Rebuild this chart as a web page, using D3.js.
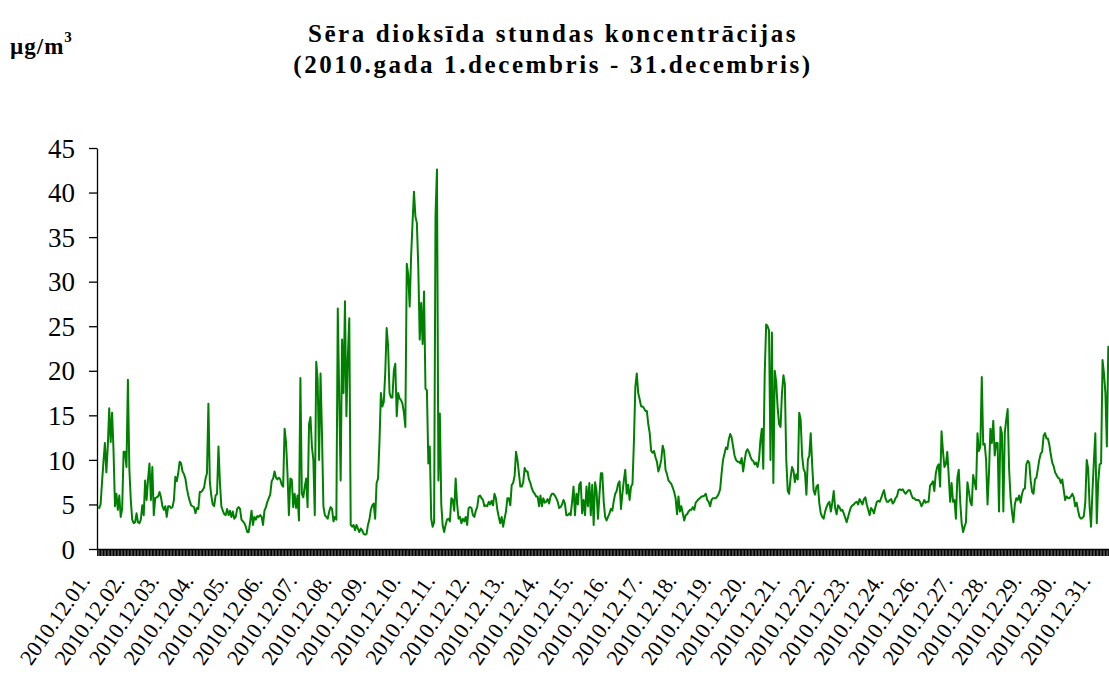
<!DOCTYPE html>
<html>
<head>
<meta charset="utf-8">
<script src="https://cdn.jsdelivr.net/npm/d3@7/dist/d3.min.js"></script>
<style>
body { margin: 0; background: #fff; }
svg text { font-family: "Liberation Serif", "Times New Roman", serif; }
</style>
</head>
<body>
<svg id="myGraph" width="1109" height="679"></svg>
<script>
// days shown on the category axis (25th has no data)
var days = ["2010.12.01.", "2010.12.02.", "2010.12.03.", "2010.12.04.", "2010.12.05.", "2010.12.06.",
    "2010.12.07.", "2010.12.08.", "2010.12.09.", "2010.12.10.", "2010.12.11.", "2010.12.12.",
    "2010.12.13.", "2010.12.14.", "2010.12.15.", "2010.12.16.", "2010.12.17.", "2010.12.18.",
    "2010.12.19.", "2010.12.20.", "2010.12.21.", "2010.12.22.", "2010.12.23.", "2010.12.24.",
    "2010.12.26.", "2010.12.27.", "2010.12.28.", "2010.12.29.", "2010.12.30.", "2010.12.31."]
var hoursPerDay = 24

// hourly SO2, ug/m3 (one row per day)
var so2 = [
    4.7, 4.6, 5.0, 7.5, 9.8, 11.9, 8.6, 11.5, 15.8, 12, 15.3, 11, 4.8, 6.2, 4.4, 6.0, 3.6, 4.5, 10.9, 10.9, 9.2, 19, 9.0, 5.5,
    3.3, 2.9, 3.0, 4.0, 3.0, 2.9, 3.3, 4.9, 3.8, 7.7, 5.5, 7.8, 9.6, 5.5, 9.2, 3.8, 5.7, 5.8, 5.9, 6.4, 5.8, 4.8, 4.4, 4.8,
    3.6, 4.8, 4.8, 4.6, 4.7, 5.5, 8.1, 7.6, 8.5, 9.8, 9.6, 8.7, 8.4, 7.9, 6.8, 6.0, 5.4, 4.9, 4.8, 4.7, 4.0, 4.6, 4.5, 6.4,
    6.4, 6.6, 6.9, 7.9, 8.5, 16.3, 7.5, 6.0, 5.0, 4.8, 6.0, 6.2, 11.5, 7.5, 4.8, 4.3, 3.9, 3.8, 4.5, 3.8, 4.3, 3.6, 4.2, 3.4,
    3.6, 4.5, 4.7, 4.5, 3.3, 3.1, 2.9, 2.5, 1.9, 1.9, 3.0, 4.3, 2.7, 3.6, 3.3, 3.7, 3.6, 3.8, 3.6, 2.7, 4.3, 4.7, 5.3, 5.7,
    6.1, 7.6, 7.9, 8.7, 8.0, 7.8, 8.0, 7.8, 7.2, 7.0, 13.5, 12, 8.5, 3.8, 7.9, 7.8, 4.7, 6.2, 4.6, 6.0, 3.2, 19.2, 6.2, 5.8,
    7.0, 7.9, 4.7, 14, 14.8, 11.5, 10, 3.8, 21, 19, 10, 19.7, 13, 4.8, 3.8, 3.6, 3.4, 4.2, 4.7, 4.5, 3.1, 3.6, 3.3, 27,
    17, 7.7, 23.5, 17.5, 27.8, 14.9, 21.6, 25.9, 2.7, 2.5, 2.7, 2.1, 2.7, 2.3, 1.9, 2.3, 2.1, 1.7, 1.6, 1.7, 2.7, 3.3, 4.4, 4.9,
    5.1, 3.4, 7.4, 7.9, 12, 17.5, 16, 16.5, 19.7, 24.8, 22.8, 17.5, 17, 17, 20, 20.8, 14.9, 17.5, 16.9, 16.7, 16.3, 15.3, 13.7, 32,
    30.8, 27.2, 32.8, 36.6, 40.1, 37.3, 36.6, 31.7, 23.5, 27.6, 23, 28.9, 18, 17.8, 9.6, 11.5, 3.4, 2.5, 3.0, 37.5, 42.6, 7.7, 15.2, 5.0,
    2.6, 1.9, 2.7, 3.3, 3.4, 3.1, 5.7, 5.5, 4.3, 7.9, 5.1, 3.4, 3.6, 2.9, 3.4, 3.1, 3.6, 2.7, 4.6, 4.7, 4.6, 3.8, 3.6, 4.3,
    4.7, 5.9, 6.0, 5.7, 5.5, 4.8, 4.9, 4.8, 5.3, 5.0, 5.4, 4.9, 6.2, 5.7, 4.4, 3.6, 2.9, 3.6, 2.5, 3.4, 4.2, 5.7, 5.7, 4.9,
    7.2, 7.4, 8.2, 10.9, 10, 8.5, 7.0, 7.0, 7.5, 9.1, 8.7, 8.7, 7.8, 7.4, 6.8, 6.4, 6.2, 5.9, 5.9, 4.8, 6.0, 4.8, 5.7, 5.2,
    5.3, 5.6, 5.1, 5.9, 6.2, 6.2, 6.0, 5.7, 5.3, 4.6, 4.7, 5.0, 5.5, 5.1, 3.8, 3.8, 4.0, 3.8, 5.3, 7.0, 3.8, 6.2, 5.0, 7.2,
    7.5, 4.0, 5.5, 3.8, 7.0, 4.8, 7.4, 3.8, 7.2, 2.7, 7.5, 6.5, 3.4, 6.0, 8.5, 8.5, 5.3, 3.6, 3.2, 3.6, 4.0, 4.5, 4.3, 5.4,
    6.2, 6.5, 7.3, 7.6, 4.5, 6.2, 7.7, 8.9, 6.2, 7.2, 5.5, 7.0, 7.3, 12, 18.2, 19.7, 17.5, 16.8, 16.0, 16.0, 15.8, 15.5, 15.5, 14.0,
    13.0, 11.0, 10.8, 11.0, 10.3, 9.8, 8.7, 9.2, 10.0, 11.6, 11.0, 8.9, 8.4, 7.7, 7.5, 7.3, 6.9, 6.4, 5.7, 3.9, 5.9, 4.2, 4.8, 4.0,
    3.2, 3.8, 3.9, 4.2, 4.4, 4.4, 4.7, 4.4, 5.2, 5.4, 5.6, 5.7, 5.9, 5.9, 6.0, 6.2, 5.5, 5.3, 4.8, 5.5, 5.7, 5.7, 5.7, 5.9,
    6.2, 6.7, 8.5, 10.0, 10.7, 11.4, 11.2, 12.3, 12.9, 12.5, 11.5, 10.5, 10.0, 9.8, 9.8, 9.6, 10.2, 8.7, 9.9, 10.9, 11.2, 10.9, 10.4, 10.0,
    9.9, 9.5, 9.7, 9.2, 10.0, 12.2, 13.5, 9.0, 19.7, 25.2, 25.0, 24.5, 10.0, 24.3, 7.4, 20.0, 18.7, 15.8, 14.0, 13.7, 17.5, 19.5, 18.5, 10.0,
    6.5, 6.2, 8.0, 9.2, 8.8, 7.5, 8.4, 7.8, 15.3, 14.5, 10.5, 9.0, 8.6, 6.1, 10.0, 10.5, 13.0, 9.5, 6.6, 6.1, 7.0, 7.2, 5.1, 4.0,
    3.6, 3.4, 4.2, 4.7, 5.1, 5.3, 4.2, 5.2, 6.5, 4.6, 3.9, 4.9, 4.7, 4.3, 4.4, 4.0, 3.5, 3.0, 3.6, 4.2, 4.7, 4.9, 5.0, 5.2,
    5.3, 5.0, 5.6, 5.3, 5.0, 5.6, 5.8, 5.0, 4.4, 3.8, 4.6, 4.4, 4.0, 4.7, 5.3, 5.4, 5.3, 5.7, 6.2, 6.6, 5.7, 5.3, 5.3, 5.5,
    5.6, 5.1, 5.3, 5.7, 5.9, 6.6, 6.7, 6.6, 6.7, 6.4, 6.2, 6.4, 6.6, 6.6, 6.1, 5.7, 5.7, 5.5, 5.5, 5.5, 5.3, 4.8, 5.1, 5.5,
    5.2, 5.3, 5.3, 7.1, 7.3, 7.6, 6.5, 8.5, 9.2, 9.5, 7.0, 13.2, 11, 9.2, 9.5, 10.9, 8.2, 5.3, 7.4, 5.3, 5.5, 3.4, 8.0, 8.9,
    5.3, 2.9, 1.9, 2.5, 3.0, 7.5, 6.5, 5.3, 4.9, 8.3, 7.5, 6.7, 13.0, 11.0, 11.5, 19.3, 11.7, 11.8, 10, 5.0, 8.5, 13.5, 11.9, 14.4,
    10.5, 11.9, 11.9, 4.2, 13.7, 13.0, 4.2, 13.0, 14.5, 15.7, 9.0, 5.8, 4.2, 3.0, 5.0, 5.7, 5.5, 6.0, 5.2, 6.2, 6.7, 6.8, 9.5, 9.9,
    9.7, 7.7, 6.4, 6.2, 7.8, 8.0, 9.0, 10.0, 10.7, 10.9, 12.7, 13.0, 12.4, 12.4, 11.7, 10.6, 9.7, 9.3, 8.6, 8.3, 8.0, 7.9, 7.4, 7.8,
    6.6, 5.5, 5.9, 5.7, 5.7, 5.9, 6.2, 5.8, 4.8, 5.2, 4.3, 3.6, 3.4, 3.5, 3.7, 5.2, 10, 9.0, 4.8, 2.5, 6.5, 9.9, 13, 2.9,
    7.5, 9.5, 9.6, 21.2, 19.7, 17.5, 11.5, 22.7, 22.7
]

var yTicks = [0, 5, 10, 15, 20, 25, 30, 35, 40, 45]

var titleLines = ["Sēra dioksīda stundas koncentrācijas", "(2010.gada 1.decembris - 31.decembris)"]

var serif = "'Liberation Serif', 'Times New Roman', serif"

// one category per hour
var categories = []
days.forEach(function(d) {
    for (var h = 0; h < hoursPerDay; h++) categories.push(d + " " + h)
})

var svg = d3.select("#myGraph")

// plot area runs past the right edge of the picture (the original was cut)
var xScale = d3.scaleBand()
    .domain(categories)
    .range([97, 97 + categories.length * 1.4375])

var yScale = d3.scaleLinear()
    .domain([0, 45])
    .range([549, 148])

// title
svg.selectAll("text.title")
    .data(titleLines)
    .enter()
    .append("text")
    .attr("class", "title")
    .attr("x", 553)
    .attr("y", (d, i) => 42 + i * 31)
    .attr("text-anchor", "middle")
    .style("font-family", serif)
    .style("font-size", "25px")
    .style("font-weight", "bold")
    .style("letter-spacing", "2.6px")
    .text(d => d)

// unit
var unit = svg.append("text")
    .attr("x", 10)
    .attr("y", 54)
    .style("font-family", serif)
    .style("font-size", "23px")
    .style("font-weight", "bold")
    .style("letter-spacing", "1px")
    .text("µg/m")
unit.append("tspan")
    .attr("dy", -12)
    .style("font-size", "15px")
    .text("3")

// x axis: one tick per hour
var xAxis = d3.axisBottom(xScale)
    .tickSize(7)
    .tickSizeOuter(0)
    .tickFormat("")

svg.append("g")
    .attr("class", "axis x")
    .attr("transform", "translate(0,549)")
    .call(xAxis)

// day labels under the first hour of each day
svg.selectAll("text.day")
    .data(days)
    .enter()
    .append("text")
    .attr("class", "day")
    .attr("transform", d => "translate(" + (xScale(d + " 0") - 6) + ",581) rotate(-55)")
    .attr("text-anchor", "end")
    .style("font-family", serif)
    .style("font-size", "22px")
    .text(d => d)

// y axis
var yAxis = d3.axisLeft(yScale)
    .tickValues(yTicks)
    .tickSize(8)
    .tickSizeOuter(0)
    .tickPadding(14)

var gy = svg.append("g")
    .attr("class", "axis y")
    .attr("transform", "translate(97,0)")
    .call(yAxis)

gy.attr("font-family", serif)
gy.selectAll("text")
    .style("font-family", serif)
    .style("font-size", "27px")
    .attr("dy", "0.34em")

svg.selectAll(".axis path, .axis line")
    .attr("stroke", "#000")
    .attr("stroke-width", 1.3)

// series
var line = d3.line()
    .x((d, i) => xScale(categories[i]) + xScale.bandwidth() / 2)
    .y(d => yScale(d))

svg.append("path")
    .datum(so2)
    .attr("d", line)
    .attr("fill", "none")
    .attr("stroke", "#008000")
    .attr("stroke-width", 2)
    .attr("stroke-linejoin", "round")
</script>
</body>
</html>
